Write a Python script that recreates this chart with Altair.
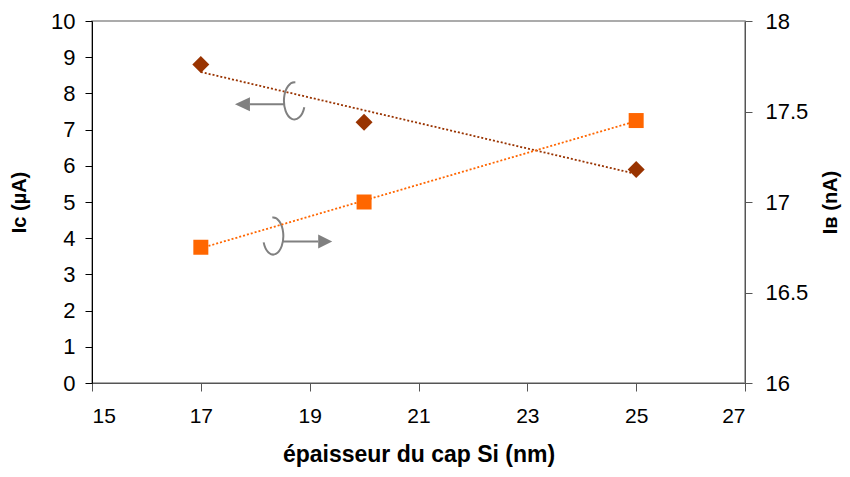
import altair as alt
import pandas as pd

# ---- data ----
thickness = [17, 20, 25]            # épaisseur du cap Si (nm)
ic_values = [8.8, 7.2, 5.9]         # I_C (µA), left axis
ib_values = [16.75, 17.0, 17.45]    # I_B (nA), right axis

x_ticks = [15, 17, 19, 21, 23, 25, 27]
ic_ticks = [0, 1, 2, 3, 4, 5, 6, 7, 8, 9, 10]
ib_ticks = [16, 16.5, 17, 17.5, 18]

# annotation anchors (data units, left axis)
ann_left_x = [18.27]
ann_left_y = [7.78]
ann_right_x = [18.78]
ann_right_y = [4.06]

df = pd.DataFrame({"x": thickness, "ic": ic_values, "ib": ib_values})

FONT = "Liberation Sans"
BROWN = "#993300"
ORANGE = "#FF6600"
GREY = "#808080"

x_scale = alt.Scale(domain=[15, 27], nice=False, zero=False)
ic_scale = alt.Scale(domain=[0, 10], nice=False, zero=False)
ib_scale = alt.Scale(domain=[16, 18], nice=False, zero=False)

x_axis = alt.Axis(values=x_ticks, title="épaisseur du cap Si (nm)", grid=False,
                  tickSize=8, labelPadding=14, labelFontSize=21, labelFont=FONT,
                  titleFont=FONT, titleFontSize=23, titleFontWeight="bold",
                  titlePadding=17, domainColor="#555555", tickColor="#555555",
                  labelColor="black", titleColor="black")
ic_axis = alt.Axis(orient="left", values=ic_ticks, title="Iᴄ (µA)", grid=False,
                   tickSize=7, labelPadding=10, labelFontSize=22, labelFont=FONT,
                   titleFont=FONT, titleFontSize=20, titleFontWeight="bold",
                   titlePadding=21, domainColor="black", tickColor="black",
                   labelColor="black", titleColor="black")
ib_axis = alt.Axis(orient="right", values=ib_ticks, format="~g", title="Iʙ (nA)", grid=False,
                   tickSize=7, labelPadding=13, labelFontSize=22, labelFont=FONT,
                   titleFont=FONT, titleFontSize=20, titleFontWeight="bold",
                   titleAngle=270, titleBaseline="top",
                   titlePadding=13, domainColor="#555555", tickColor="#555555",
                   labelColor="black", titleColor="black")

X = alt.X("x:Q", scale=x_scale, axis=x_axis)
Y_IC = alt.Y("ic:Q", scale=ic_scale, axis=ic_axis)
Y_IB = alt.Y("ib:Q", scale=ib_scale, axis=ib_axis)

base = alt.Chart(df)

left_trend = base.transform_regression("x", "ic").mark_line(
    color=BROWN, strokeWidth=1.8, strokeDash=[2, 2]).encode(x=X, y=Y_IC)
left_pts = base.mark_point(shape="diamond", filled=True, size=289, color=BROWN,
                           opacity=1).encode(x=X, y=Y_IC)

right_trend = base.transform_regression("x", "ib").mark_line(
    color=ORANGE, strokeWidth=1.8, strokeDash=[2, 2]).encode(x=X, y=Y_IB)
right_pts = base.mark_point(shape="square", filled=True, size=225, color=ORANGE,
                            opacity=1).encode(x=X, y=Y_IB)

# rotation-arrow annotations (custom symbol paths, unit box -1..1)
L_TRI = "M -1 0.086 L -0.571 -0.114 L -0.571 0.286 Z"
L_LOOP = "M -0.571 0.086 L 0.4 0.086 M 0.726 -0.542 A 0.3 0.53 0 1 0 0.982 0.167"
R_TRI = "M 0.986 0.157 L 0.586 -0.043 L 0.586 0.357 Z"
R_LOOP = "M -0.414 0.157 L 0.586 0.157 M -0.725 -0.528 A 0.29 0.53 0 1 1 -0.973 0.181"

ann_l = alt.Chart(pd.DataFrame({"x": ann_left_x, "ic": ann_left_y}))
ann_r = alt.Chart(pd.DataFrame({"x": ann_right_x, "ic": ann_right_y}))
ANN_SIZE = 4900

ann_marks = [
    ann_l.mark_point(shape=L_TRI, filled=True, size=ANN_SIZE, color=GREY, opacity=1).encode(x=X, y=Y_IC),
    ann_l.mark_point(shape=L_LOOP, filled=False, size=ANN_SIZE, stroke=GREY, strokeWidth=2, opacity=1).encode(x=X, y=Y_IC),
    ann_r.mark_point(shape=R_TRI, filled=True, size=ANN_SIZE, color=GREY, opacity=1).encode(x=X, y=Y_IC),
    ann_r.mark_point(shape=R_LOOP, filled=False, size=ANN_SIZE, stroke=GREY, strokeWidth=2, opacity=1).encode(x=X, y=Y_IC),
]

left_layer = alt.layer(left_trend, left_pts, *ann_marks)
right_layer = alt.layer(right_trend, right_pts)

chart = alt.layer(left_layer, right_layer).resolve_scale(y="independent").properties(
    width=653, height=362,
    autosize=alt.AutoSizeParams(type="none"),
    padding={"left": 84, "top": 13, "right": 97, "bottom": 86},
).configure_view(stroke="#909090", strokeWidth=1.5)

chart.save("out.html", embed_options={"renderer": "svg", "actions": False})
